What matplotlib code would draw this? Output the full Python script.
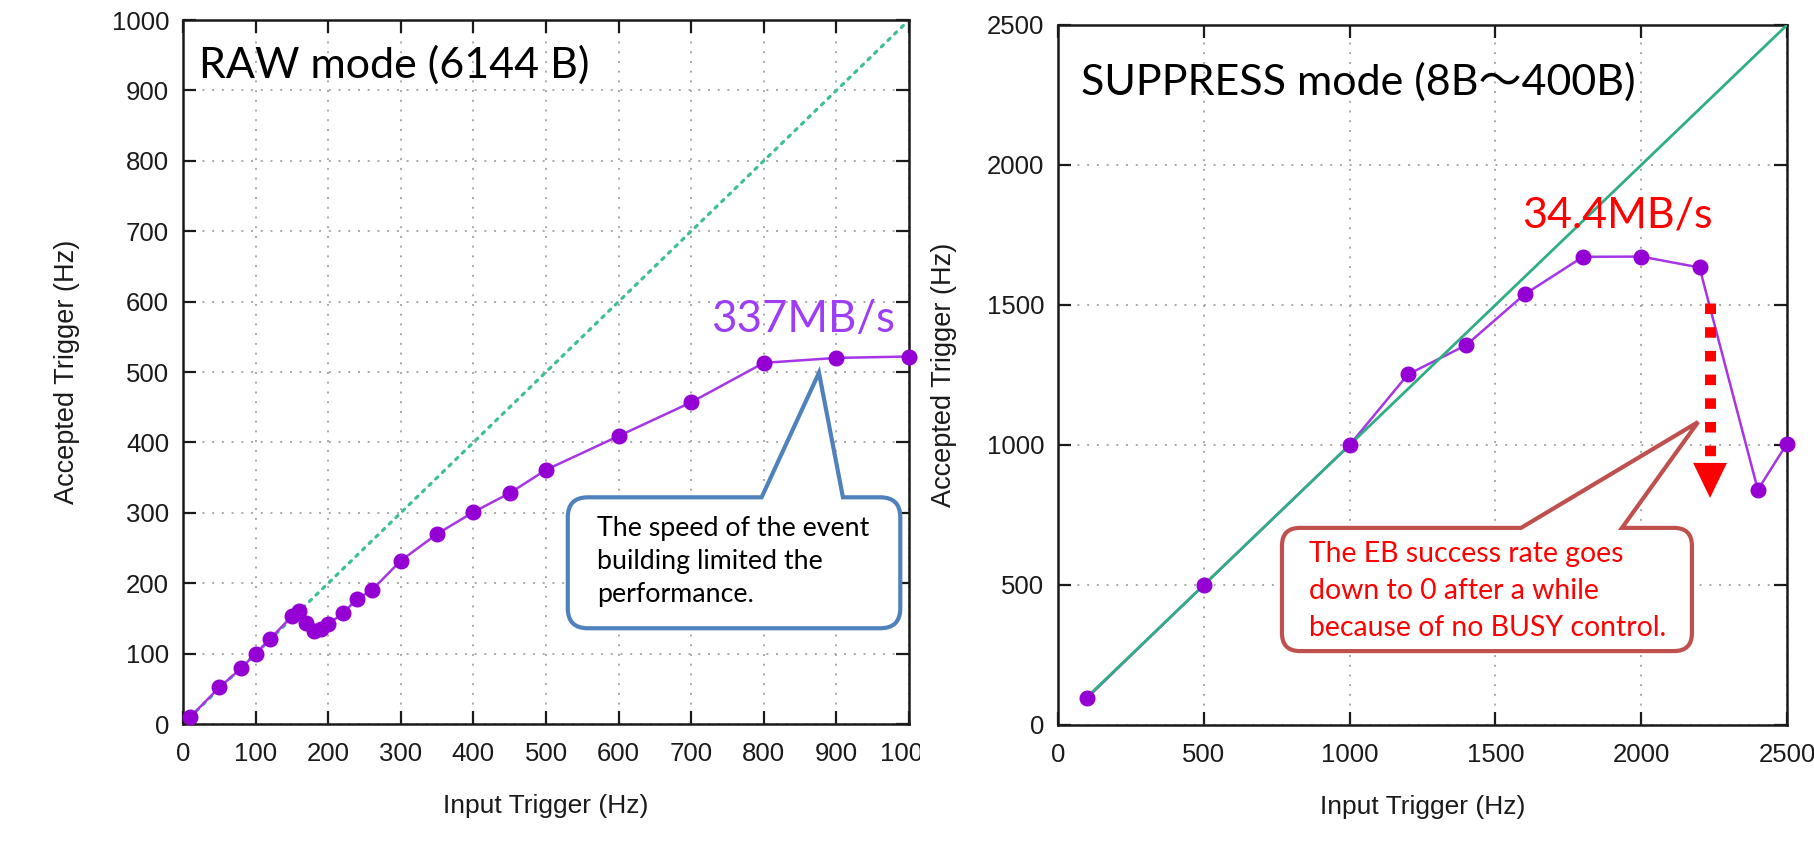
import numpy as np
import matplotlib
matplotlib.use("Agg")
import matplotlib.pyplot as plt
from matplotlib.path import Path
from matplotlib.patches import PathPatch, Rectangle, Polygon
from matplotlib.transforms import IdentityTransform

# ---------------- data ----------------
raw_input = [10, 50, 80, 100, 120, 150, 160, 170, 180, 190, 200, 220, 240, 260,
             300, 350, 400, 450, 500, 600, 700, 800, 900, 1000]
raw_accepted = [10, 52, 79, 100, 121, 153, 160, 143, 132, 135, 142, 157, 178, 190,
                232, 270, 301, 328, 361, 409, 457, 513, 520, 522]
raw_ideal_x = [0, 1000]
raw_ideal_y = [0, 1000]

sup_input = [100, 500, 1000, 1200, 1400, 1600, 1800, 2000, 2200, 2400, 2500]
sup_accepted = [97, 500, 1000, 1252, 1357, 1538, 1672, 1673, 1634, 840, 1005]
sup_ideal_x = [100, 2500]
sup_ideal_y = [100, 2500]

raw_xticks = list(range(0, 1001, 100))
raw_yticks = list(range(0, 1001, 100))
sup_ticks = list(range(0, 2501, 500))

x_label = "Input Trigger (Hz)"
y_label = "Accepted Trigger (Hz)"

# ---------------- style ----------------
W, H = 1814, 859
PURPLE = "#9400d3"
PURPLE_LINE = "#a535e6"
GREEN_DOT = "#3fbf92"
GREEN = "#2fae86"
GRID = "#a8a8a8"
TICKFONT = "Liberation Sans"
NOTEFONT = ["Lato", "Noto Sans CJK JP", "DejaVu Sans"]

fig = plt.figure(figsize=(W / 100, H / 100), dpi=100)
fig.patch.set_facecolor("white")

ax1 = fig.add_axes([183 / W, 1 - 724 / H, (909 - 183) / W, (724 - 20) / H])
ax2 = fig.add_axes([1058 / W, 1 - 725 / H, (1787 - 1058) / W, (725 - 25) / H])


def style_axes(ax, xticks, yticks, xlim, ylim, xlab_y, ylab_x):
    ax.set_xlim(*xlim)
    ax.set_ylim(*ylim)
    ax.set_xticks(xticks)
    ax.set_yticks(yticks)
    ax.grid(True, color=GRID, lw=1.4, ls=(0, (1, 4)))
    ax.set_axisbelow(True)
    ax.tick_params(axis="both", direction="in", length=9.5, width=1.6,
                   top=True, right=True, labelsize=18.5, colors="#1a1a1a")
    ax.tick_params(axis="x", pad=13)
    ax.tick_params(axis="y", pad=10)
    for lbl in ax.get_xticklabels() + ax.get_yticklabels():
        lbl.set_fontfamily(TICKFONT)
    for sp in ax.spines.values():
        sp.set_linewidth(1.8)
        sp.set_color("#1a1a1a")
    ax.set_xlabel(x_label, fontsize=19, family=TICKFONT, color="#1a1a1a")
    ax.set_ylabel(y_label, fontsize=19.5, family=TICKFONT, color="#1a1a1a")
    ax.xaxis.set_label_coords(0.5, xlab_y)
    ax.yaxis.set_label_coords(ylab_x, 0.5)


style_axes(ax1, raw_xticks, raw_yticks, (0, 1000), (0, 1000), -0.100, -0.142)
style_axes(ax2, sup_ticks, sup_ticks, (0, 2500), (0, 2500), -0.100, -0.1385)

# ---------------- series ----------------
ax1.plot(raw_ideal_x, raw_ideal_y, color=GREEN_DOT, lw=2.3, ls=(0, (0.9, 2.0)),
         dash_capstyle="round", zorder=2)
ax1.plot(raw_input, raw_accepted, color=PURPLE_LINE, lw=1.8, zorder=3)
ax1.plot(raw_input, raw_accepted, ls="none", marker="o", ms=10.5, color=PURPLE,
         mec=PURPLE, zorder=4, clip_on=False)

ax2.plot(sup_input, sup_accepted, color=PURPLE_LINE, lw=1.8, zorder=2)
ax2.plot(sup_ideal_x, sup_ideal_y, color=GREEN, lw=2.0, zorder=3)
ax2.plot(sup_input, sup_accepted, ls="none", marker="o", ms=10.5, color=PURPLE,
         mec=PURPLE, zorder=4, clip_on=False)

# ---------------- annotations ----------------
ax1.text(22, 918, "RAW mode (6144 B)", fontsize=31, family=NOTEFONT,
         color="black", va="baseline", ha="left", zorder=6)
ax2.text(79, 2250, "SUPPRESS mode (8B～400B)", fontsize=31, family=NOTEFONT,
         color="black", va="baseline", ha="left", zorder=6)
ax1.text(728, 557, "337MB/s", fontsize=31.5, family=NOTEFONT, color="#9d3df5",
         va="baseline", ha="left", zorder=6)
ax2.text(1591, 1775, "34.4MB/s", fontsize=31, family=NOTEFONT, color="#ff0000",
         va="baseline", ha="left", zorder=6)


def callout(ax, x0, y0, x1, y1, base_a, base_b, tip, radius, ec, lw):
    """Rounded box (data coords) with a pointer from its top edge to tip."""
    T = ax.transData
    (px0, py0) = T.transform((x0, y0))
    (px1, py1) = T.transform((x1, y1))
    ba = T.transform((base_a, y1))[0]
    bb = T.transform((base_b, y1))[0]
    tx, ty = T.transform(tip)
    r = radius
    verts, codes = [], []

    def mv(p):
        verts.append(p); codes.append(Path.MOVETO)

    def ln(p):
        verts.append(p); codes.append(Path.LINETO)

    def crv(c, p):
        verts.extend([c, p]); codes.extend([Path.CURVE3, Path.CURVE3])

    mv((px0 + r, py1))
    ln((ba, py1))
    ln((tx, ty))
    ln((bb, py1))
    ln((px1 - r, py1))
    crv((px1, py1), (px1, py1 - r))
    ln((px1, py0 + r))
    crv((px1, py0), (px1 - r, py0))
    ln((px0 + r, py0))
    crv((px0, py0), (px0, py0 + r))
    ln((px0, py1 - r))
    crv((px0, py1), (px0 + r, py1))
    verts.append((px0 + r, py1)); codes.append(Path.CLOSEPOLY)
    patch = PathPatch(Path(verts, codes), facecolor="white", edgecolor=ec,
                      lw=lw, transform=IdentityTransform(), zorder=7,
                      joinstyle="miter", clip_on=False)
    ax.add_artist(patch)


callout(ax1, 530, 136, 988, 322, 797, 909, (876, 499), 20, "#4f81bd", 3.0)
ax1.text(570, 295, "The speed of the event\nbuilding limited the\nperformance.",
         fontsize=19.3, family=NOTEFONT, color="black", va="top", ha="left",
         linespacing=1.38, zorder=8)

callout(ax2, 768, 264, 2174, 704, 1588, 1934, (2195, 1082), 18, "#c0504d", 3.0)
ax2.text(861, 658, "The EB success rate goes\ndown to 0 after a while\nbecause of no BUSY control.",
         fontsize=20.4, family=NOTEFONT, color="#ff0000", va="top", ha="left",
         linespacing=1.52, zorder=8)

# red dotted arrow
ax2.plot([2236, 2236], [1507, 936], color="#ff0000", lw=7.9,
         ls=(0, (0.96, 1.2)), dash_capstyle="butt", zorder=8, clip_on=False)
ax2.add_patch(Polygon([[2178, 936], [2294, 936], [2236, 811]], closed=True,
                      facecolor="#ff0000", edgecolor="none", zorder=8))

# crop of the left screenshot's last tick label
fig.add_artist(Rectangle((920 / W, 1 - 780 / H), 118 / W, 42 / H,
                         transform=fig.transFigure, facecolor="white",
                         edgecolor="none", zorder=10))

fig.savefig("out.png", dpi=100)
